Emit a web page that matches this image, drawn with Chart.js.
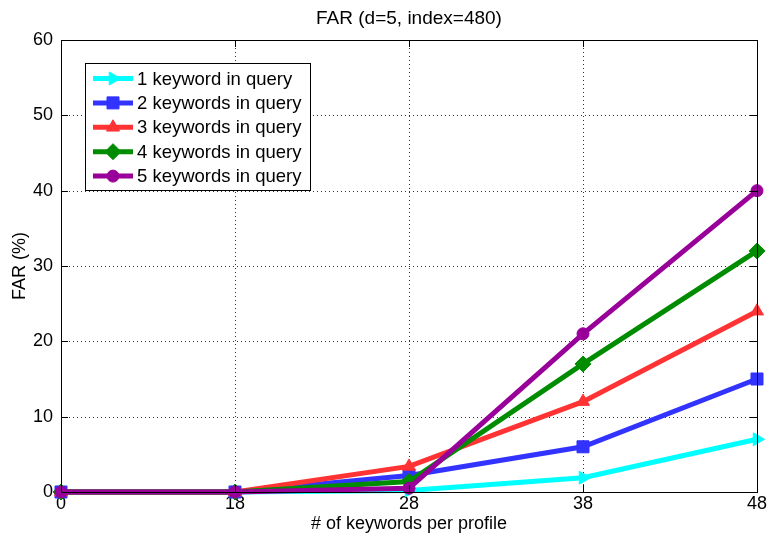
<!DOCTYPE html>
<html>
<head>
<meta charset="utf-8">
<script src="https://cdn.jsdelivr.net/npm/chart.js@4/dist/chart.umd.min.js"></script>
<style>
  html, body { margin: 0; padding: 0; background: #fff; }
  #wrap { width: 768px; height: 537px; }
</style>
</head>
<body>
<div id="wrap"><canvas id="c" width="768" height="537"></canvas></div>
<script>
// Keywords per profile (x categories)
const keywordsPerProfile = ['0', '18', '28', '38', '48'];

// FAR (%) for each query size
const far1 = [0, 0, 0.2, 1.9, 7];
const far2 = [0, 0, 2.2, 6, 15];
const far3 = [0, 0, 3.4, 12, 24];
const far4 = [0, 0, 1.4, 17, 32];
const far5 = [0, 0, 0.5, 21, 40];

const seriesLabels = [
  '1 keyword in query',
  '2 keywords in query',
  '3 keywords in query',
  '4 keywords in query',
  '5 keywords in query'
];

const yTicks = [0, 10, 20, 30, 40, 50, 60];

const FONT = '"Liberation Sans", Arial, Helvetica, sans-serif';

function series(label, data, color, style, radius, rotation, order) {
  return {
    label, data,
    borderColor: color,
    backgroundColor: color,
    borderWidth: 5,
    pointStyle: style,
    pointRadius: radius,
    pointHoverRadius: radius,
    pointRotation: rotation,
    pointBorderWidth: 1,
    pointBorderColor: color,
    pointBackgroundColor: color,
    tension: 0,
    clip: false,
    order
  };
}

const datasets = [
  series(seriesLabels[0], far1, '#00FFFF', 'triangle', 7.5, 90, 4),
  series(seriesLabels[1], far2, '#3333FF', 'rect', 8.5, 0, 3),
  series(seriesLabels[2], far3, '#FF3333', 'triangle', 7.5, 0, 2),
  series(seriesLabels[3], far4, '#008C00', 'rectRot', 8, 0, 1),
  series(seriesLabels[4], far5, '#990099', 'circle', 6, 0, 0)
];

// Dotted grid behind the lines
const dottedGrid = {
  id: 'dottedGrid',
  beforeDatasetsDraw(chart) {
    const { ctx, chartArea: a, scales } = chart;
    ctx.save();
    ctx.strokeStyle = '#333';
    ctx.lineWidth = 1;
    ctx.setLineDash([1, 3]);
    ctx.beginPath();
    yTicks.forEach(v => {
      const y = Math.round(scales.y.getPixelForValue(v)) + 0.5;
      ctx.moveTo(a.left, y); ctx.lineTo(a.right, y);
    });
    keywordsPerProfile.forEach((_, i) => {
      const x = Math.round(scales.x.getPixelForValue(i)) + 0.5;
      ctx.moveTo(x, a.top); ctx.lineTo(x, a.bottom);
    });
    ctx.stroke();
    ctx.restore();
  }
};

// Frame, inward ticks, title and boxed legend
const matlabFrame = {
  id: 'matlabFrame',
  afterDraw(chart) {
    const { ctx, chartArea: a, scales } = chart;
    ctx.save();
    ctx.strokeStyle = '#000';
    ctx.lineWidth = 1;
    ctx.strokeRect(Math.round(a.left) + 0.5, Math.round(a.top) + 0.5,
                   Math.round(a.right - a.left), Math.round(a.bottom - a.top));
    const tl = 7;
    ctx.beginPath();
    yTicks.forEach(v => {
      const y = Math.round(scales.y.getPixelForValue(v)) + 0.5;
      ctx.moveTo(a.left, y); ctx.lineTo(a.left + tl, y);
      ctx.moveTo(a.right, y); ctx.lineTo(a.right - tl, y);
    });
    keywordsPerProfile.forEach((_, i) => {
      const x = Math.round(scales.x.getPixelForValue(i)) + 0.5;
      ctx.moveTo(x, a.bottom); ctx.lineTo(x, a.bottom - tl);
      ctx.moveTo(x, a.top); ctx.lineTo(x, a.top + tl);
    });
    ctx.stroke();

    // title centred over the plot
    ctx.fillStyle = '#000';
    ctx.font = '19px ' + FONT;
    ctx.textAlign = 'center';
    ctx.textBaseline = 'middle';
    ctx.fillText('FAR (d=5, index=480)', (a.left + a.right) / 2, 18.5);

    // legend box
    const bx = 85.5, by = 63.5, bw = 225, bh = 127;
    ctx.fillStyle = '#fff';
    ctx.fillRect(bx, by, bw, bh);
    ctx.strokeStyle = '#000';
    ctx.lineWidth = 1;
    ctx.strokeRect(bx, by, bw, bh);
    ctx.font = '18.5px ' + FONT;
    ctx.textAlign = 'left';
    chart.data.datasets.forEach((ds, i) => {
      const cy = 78.5 + i * 24.4;
      ctx.strokeStyle = ds.borderColor;
      ctx.lineWidth = 5;
      ctx.beginPath();
      ctx.moveTo(93, cy); ctx.lineTo(133, cy);
      ctx.stroke();
      ctx.fillStyle = ds.backgroundColor;
      ctx.strokeStyle = ds.borderColor;
      ctx.lineWidth = 1;
      Chart.helpers.drawPoint(ctx, {
        pointStyle: ds.pointStyle,
        rotation: ds.pointRotation,
        radius: ds.pointRadius,
        borderWidth: 1
      }, 113, cy);
      ctx.fillStyle = '#000';
      ctx.fillText(ds.label, 137, cy + 1);
    });
    ctx.restore();
  }
};

new Chart(document.getElementById('c'), {
  type: 'line',
  data: { labels: keywordsPerProfile, datasets },
  options: {
    responsive: false,
    animation: false,
    events: [],
    layout: { padding: { top: 40, right: 11, left: 0, bottom: 0 } },
    plugins: {
      legend: { display: false },
      title: { display: false },
      tooltip: { enabled: false }
    },
    scales: {
      x: {
        type: 'category',
        offset: false,
        afterFit(s) { s.height = 45; s.paddingLeft = 0; s.paddingRight = 0; },
        grid: { display: false, drawTicks: false, tickLength: 0 },
        border: { display: false },
        ticks: {
          color: '#000',
          font: { family: FONT, size: 18 },
          padding: 1,
          maxRotation: 0,
          autoSkip: false
        },
        title: {
          display: true,
          text: '# of keywords per profile',
          color: '#000',
          font: { family: FONT, size: 18 },
          padding: { top: 0, bottom: 2.5 }
        }
      },
      y: {
        min: 0,
        max: 60,
        afterFit(s) { s.width = 61; s.paddingTop = 0; s.paddingBottom = 0; },
        afterBuildTicks(s) { s.ticks = yTicks.map(v => ({ value: v })); },
        grid: { display: false, drawTicks: false, tickLength: 0 },
        border: { display: false },
        ticks: {
          color: '#000',
          font: { family: FONT, size: 18 },
          padding: 8
        },
        title: {
          display: true,
          text: 'FAR (%)',
          color: '#000',
          font: { family: FONT, size: 18 },
          padding: { top: 9, bottom: 0 }
        }
      }
    }
  },
  plugins: [dottedGrid, matlabFrame]
});
</script>
</body>
</html>
